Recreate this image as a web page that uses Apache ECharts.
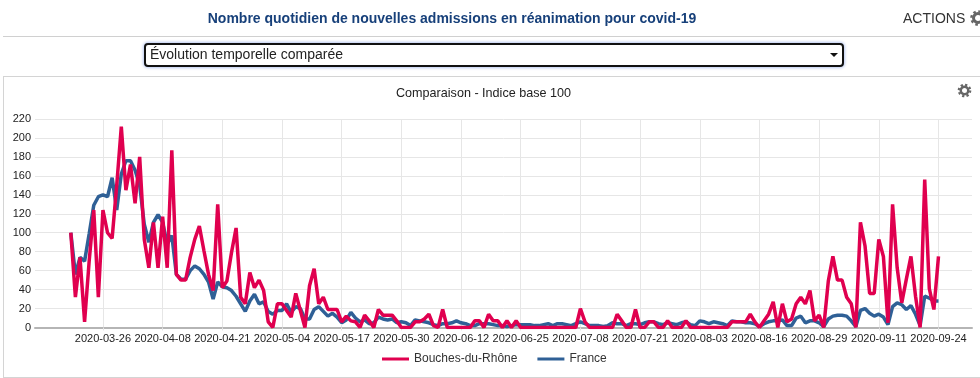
<!DOCTYPE html>
<html><head><meta charset="utf-8">
<script src="https://cdn.jsdelivr.net/npm/echarts@6/dist/echarts.min.js"></script>
<style>
html,body{margin:0;padding:0;background:#fff;overflow:hidden;width:980px;height:378px;font-family:"Liberation Sans",Arial,sans-serif}
.t{position:absolute;white-space:nowrap}
#title{left:0;width:904px;top:10px;text-align:center;font-weight:bold;font-size:14px;color:#17407a;line-height:16px}
#actions{left:903px;top:10px;font-size:14px;color:#333;line-height:16px}
.gear{position:absolute}
#hr{position:absolute;left:3px;right:0;top:36px;height:1px;background:#d0d0d0}
#sel{position:absolute;left:144px;top:43px;width:696px;height:20px;border:2px solid #111;border-radius:4px;box-shadow:0 0 3px 1px #b9c8f0;background:#fff}
#seltext{left:150px;top:46px;font-size:14px;color:#222;line-height:17px}
#arrow{position:absolute;left:830px;top:53px;width:0;height:0;border-left:4px solid transparent;border-right:4px solid transparent;border-top:4px solid #111}
#panel{position:absolute;left:3px;top:76px;right:0;height:300px;border:1px solid #d4d4d4;border-right:none;box-sizing:content-box}
#chart{position:absolute;left:0;top:0;width:980px;height:378px}
</style></head><body>
<div id="panel"></div>
<div id="chart"></div>
<div id="title" class="t">Nombre quotidien de nouvelles admissions en réanimation pour covid-19</div>
<div id="actions" class="t">ACTIONS</div>
<svg class="gear" style="left:969px;top:9px" width="18" height="18" viewBox="0 0 18 18"><circle cx="9" cy="9" r="4.5" fill="none" stroke="#666" stroke-width="3"/><circle cx="9" cy="9" r="6.6" fill="none" stroke="#666" stroke-width="2.4" stroke-dasharray="2.6 2.6"/></svg>
<div id="hr"></div>
<div id="sel"></div><div id="seltext" class="t">Évolution temporelle comparée</div><div id="arrow"></div>
<svg class="gear" style="left:957px;top:83px" width="15" height="15" viewBox="0 0 18 18"><circle cx="9" cy="9" r="4.5" fill="none" stroke="#666" stroke-width="3"/><circle cx="9" cy="9" r="6.9" fill="none" stroke="#666" stroke-width="2.6" stroke-dasharray="2.7 2.7"/></svg>
<script>
const startDate = '2020-03-19';
const tickLabels = ['2020-03-26','2020-04-08','2020-04-21','2020-05-04','2020-05-17','2020-05-30','2020-06-12','2020-06-25','2020-07-08','2020-07-21','2020-08-03','2020-08-16','2020-08-29','2020-09-11','2020-09-24'];
const yMax = 220, yStep = 20;
const bouches = [100,32,74,6,70,124,32,124,100,94,150,212,145,172,131,180,93,63,111,63,117,63,187,56,50,50,74,93,107,81,56,39,130,42,49,79,105,32,25,58,42,50,39,6,0,25,25,18,11,36,18,0,44,62,25,32,19,19,19,6,12,7,6,0,13,7,0,19,13,13,13,7,0,0,0,6,6,9,14,2,0,19,0,0,0,0,0,0,7,7,0,14,7,7,0,7,0,7,0,0,0,0,0,0,0,0,0,0,0,0,0,20,6,0,0,0,0,0,0,14,7,0,0,19,0,0,6,6,0,0,7,0,0,0,7,0,0,0,0,0,0,0,0,0,6,6,6,6,14,6,0,7,14,27,0,25,6,9,25,32,25,39,7,13,0,49,75,50,50,32,25,0,111,86,36,36,93,75,5,130,63,26,51,75,33,0,156,41,19,75];
const france = [100,56,74,70,99,129,138,140,138,158,124,162,176,176,166,150,109,90,111,119,111,88,97,56,51,51,60,65,62,56,48,30,48,43,42,39,33,25,17,28,35,25,27,17,14,18,18,25,16,22,20,9,9,19,22,17,12,15,11,5,8,16,10,6,8,4,5,11,9,8,9,5,6,5,2,8,7,6,5,3,2,4,4,5,7,5,4,2,2,4,4,4,3,2,2,1,2,3,3,3,3,2,2,3,4,2,4,4,3,2,4,6,4,2,2,2,1,2,5,4,4,2,4,4,3,5,6,6,4,3,5,4,3,5,6,3,2,7,6,4,6,5,4,2,7,6,6,5,5,4,1,4,6,7,7,8,2,2,10,12,5,7,7,5,1,9,12,13,13,12,7,1,18,20,15,12,14,11,3,22,26,24,19,23,14,2,33,31,28,28];
const seriesNames = ['Bouches-du-Rhône','France'];
const DAY = 86400000;
const t0 = Date.parse(startDate + 'T00:00:00Z');
const toPairs = a => a.map((v,i)=>[t0+i*DAY,v]);
const tickValues = tickLabels.map(s=>Date.parse(s+'T00:00:00Z'));
const pad = n=>String(n).padStart(2,'0');
const fmt = v=>{const d=new Date(v);return d.getUTCFullYear()+'-'+pad(d.getUTCMonth()+1)+'-'+pad(d.getUTCDate());};
const chart = echarts.init(document.getElementById('chart'),null,{renderer:'canvas'});
chart.setOption({
  animation:false, backgroundColor:'transparent',
  textStyle:{fontFamily:'"Liberation Sans",Arial,sans-serif'},
  title:{text:'Comparaison - Indice base 100',left:483.5,top:87,textAlign:'center',padding:0,textStyle:{fontSize:12.6,fontWeight:'normal',color:'#222',lineHeight:14}},
  grid:{left:35,right:8,top:119,bottom:50.5},
  legend:{left:382,top:353,itemWidth:27,itemHeight:3,itemGap:20,icon:'rect',padding:0,textStyle:{fontSize:12,color:'#333'},data:seriesNames},
  xAxis:{type:'value',min:t0-7.8*DAY,max:t0+189*DAY+7.3*DAY,
    axisLine:{lineStyle:{color:'#b5b5b5',width:2}},
    axisTick:{show:true,customValues:tickValues,length:3,lineStyle:{color:'#e4e4e4'}},
    splitLine:{show:true,lineStyle:{color:'#e6e6e6',width:1}},
    axisLabel:{customValues:tickValues,formatter:v=>fmt(v),fontSize:11,color:'#222',margin:5.5,hideOverlap:false}},
  yAxis:{type:'value',min:0,max:yMax,interval:yStep,
    axisLine:{show:false},axisTick:{show:false},
    splitLine:{lineStyle:{color:'#e6e6e6',width:1}},
    axisLabel:{fontSize:11,color:'#222',margin:4}},
  series:[
    {name:seriesNames[1],type:'line',data:toPairs(france),showSymbol:false,z:2,lineStyle:{color:'#2f6096',width:3.5},itemStyle:{color:'#2f6096'}},
    {name:seriesNames[0],type:'line',data:toPairs(bouches),showSymbol:false,z:3,lineStyle:{color:'#e0004f',width:3.5},itemStyle:{color:'#e0004f'}}
  ]
});
</script>
</body></html>
